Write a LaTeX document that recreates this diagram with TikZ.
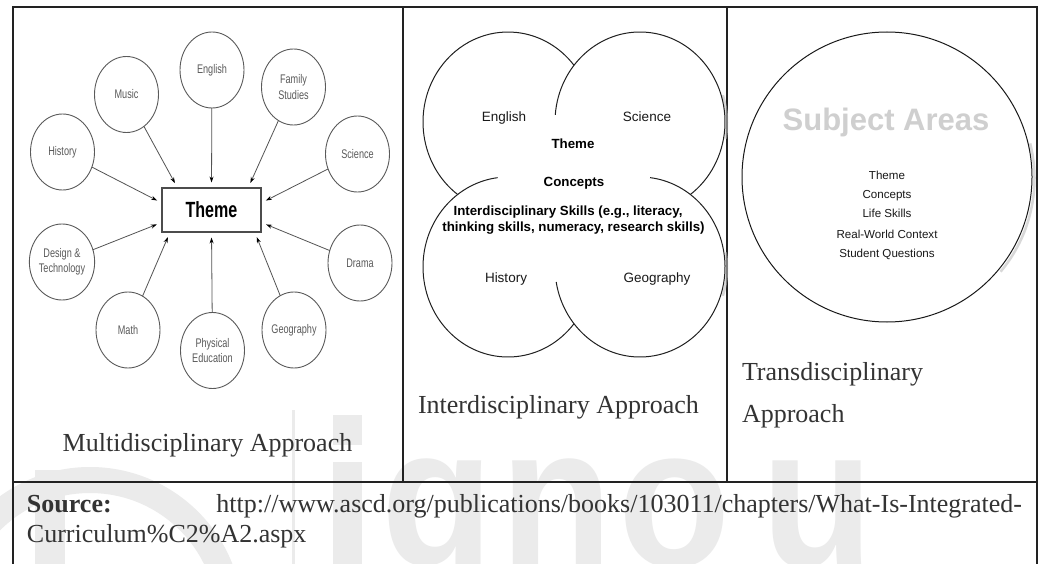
\documentclass[tikz,border=0pt]{standalone}
\usepackage{fontspec}
\setmainfont{Liberation Serif}
\newfontfamily\arialf{Liberation Sans}
\newfontfamily\narrowf[FakeStretch=0.73]{Liberation Sans}
\newfontfamily\wmfont[FakeStretch=0.92]{Liberation Sans}
\usetikzlibrary{arrows.meta,shapes.geometric}
\definecolor{ink}{HTML}{222222}
\definecolor{capcol}{HTML}{333333}
\definecolor{lgray}{HTML}{5A5A5A}
\definecolor{wm}{HTML}{EBEBEB}
\definecolor{subjcol}{HTML}{CFCFCF}
\begin{document}
\begin{tikzpicture}[x=1pt,y=-1pt,
  every node/.style={inner sep=0pt, outer sep=0pt},
  subject/.style={ellipse, draw=lgray, line width=0.9pt, fill=white,
    minimum width=64pt, minimum height=76pt, align=center, text=lgray,
    font=\narrowf\fontsize{12.5}{15.5}\selectfont},
  themebox/.style={rectangle, draw=gray!60!black, line width=1.3pt, fill=white,
    minimum width=99pt, minimum height=44pt,
    font=\narrowf\bfseries\fontsize{22}{26}\selectfont},
  feed/.style={draw=gray!65!black, line width=0.8pt,
    -{Stealth[length=6pt,width=4pt,color=black]}, shorten >=5.5pt},
  capt/.style={text=capcol, font=\fontsize{26}{30}\selectfont, anchor=base},
  src/.style={text=capcol, font=\fontsize{26}{30}\selectfont},
  venn/.style={draw=gray!25!black, line width=1pt},
  vshadow/.style={draw=gray!50, line width=2.5pt, draw opacity=0.6},
  vlabel/.style={text=gray!20!black, font=\arialf\fontsize{13.5}{16}\selectfont, anchor=base},
  vbold/.style={text=black, font=\arialf\bfseries\fontsize{13.3}{16}\selectfont, anchor=base},
  tlabel/.style={text=gray!20!black, font=\arialf\fontsize{11.6}{14}\selectfont, anchor=base},
  tablerule/.style={draw=ink, line width=2.4pt},
  wmtext/.style={text=wm, font=\wmfont\bfseries\fontsize{200}{200}\selectfont,
    anchor=base west, text height=104pt, text depth=0pt},
]
\useasboundingbox (0,0) rectangle (1044,564);
\fill[white] (0,0) rectangle (1044,564);

% ---------- faint watermark ----------
\draw[wm, line width=26pt] (-50,620) arc[start angle=180, end angle=360, radius=140];
\fill[wm] (35,470) rectangle (65,564);
\fill[wm] (291.5,410) rectangle (294.5,564);
\fill[wm] (333,415) rectangle (362,445);
\fill[wm] (333,462) rectangle (362,564);
\node[wmtext] (wmg) at (381,566) {g};
\node[wmtext] (wmn) at (500,566) {n};
\node[wmtext] (wmo) at (618,566) {o};
\node[wmtext] (wmu) at (761,566) {u};

% ---------- table rules ----------
\draw[tablerule] (13,564) -- (13,7) -- (1037,7) -- (1037,564);
\draw[tablerule] (403,7) -- (403,482);
\draw[tablerule] (727,7) -- (727,482);
\draw[tablerule] (13,482) -- (1037,482);

% ---------- left panel: multidisciplinary ----------
\node[themebox] (theme) at (211.5,210) {Theme};
\node[subject] (english) at (212,70) {English};
\node[subject] (music) at (126.5,94.5) {Music};
\node[subject] (family) at (293.5,87) {Family\\Studies};
\node[subject] (history) at (62.5,152) {History};
\node[subject] (science) at (357.5,154) {Science};
\node[subject] (design) at (62,262) {Design \&\\Technology};
\node[subject] (drama) at (360,263) {Drama};
\node[subject] (math) at (128,330) {Math};
\node[subject] (phys) at (212.5,350.5) {Physical\\Education};
\node[subject] (geo) at (294,330) {Geography};

\draw[feed] (history) -- (theme.172);
\draw[feed] (design) -- (theme.194);
\draw[feed] (music) -- (theme.147);
\draw[feed] (english) -- (theme.90);
\draw[feed] (family) -- (theme.31);
\draw[feed] (science) -- (theme.8);
\draw[feed] (drama) -- (theme.-14);
\draw[feed] (math) -- (theme.208);
\draw[feed] (phys) -- (theme.270);
\draw[feed] (geo) -- (theme.333);

\node[capt] (mcap) at (207.5,451) {Multidisciplinary Approach};

% ---------- middle panel: interdisciplinary ----------
\draw[vshadow] ([shift={(2,1)}]640,122) ++(-18:85 and 90) arc[start angle=-18, end angle=10, x radius=85, y radius=90];
\draw[vshadow] ([shift={(2,1)}]640,267) ++(-10:85 and 90) arc[start angle=-10, end angle=18, x radius=85, y radius=90];
\draw[venn] (508,122) ++(126.3:85 and 90) arc[start angle=126.3, end angle=320.95, x radius=85, y radius=90];
\draw[venn] (640,122) ++(184.5:85 and 90) arc[start angle=184.5, end angle=413.7, x radius=85, y radius=90];
\draw[venn] (508,267) ++(39.05:85 and 90) arc[start angle=39.05, end angle=263, x radius=85, y radius=90];
\draw[venn] (640,267) ++(170.4:85 and 90) arc[start angle=170.4, end angle=-83.2, x radius=85, y radius=90];

\node[vlabel] (ienglish) at (504,122) {English};
\node[vlabel] (iscience) at (647,122) {Science};
\node[vbold] (itheme) at (573,149) {Theme};
\node[vbold] (iconcepts) at (574,187) {Concepts};
\node[vbold] (iskills1) at (568,215) {Interdisciplinary Skills (e.g., literacy,};
\node[vbold] (iskills2) at (573.5,232) {thinking skills, numeracy, research skills)};
\node[vlabel] (ihistory) at (506,282) {History};
\node[vlabel] (igeo) at (657,282) {Geography};

\node[capt, anchor=base west] (icap) at (418,413) {Interdisciplinary Approach};

% ---------- right panel: transdisciplinary ----------
\draw[vshadow] ([shift={(2.5,1.5)}]887,177) ++(-14:145) arc[start angle=-14, end angle=40, radius=145];
\node[circle, draw=gray!20!black, line width=1pt, minimum size=290pt] (whole) at (887,177) {};
\node[text=subjcol, font=\arialf\bfseries\fontsize{31}{36}\selectfont, anchor=base] (tsubj) at (886,131) {Subject Areas};
\node[tlabel] (ttheme) at (887,180) {Theme};
\node[tlabel] (tconcepts) at (887,199) {Concepts};
\node[tlabel] (tlife) at (887,218) {Life Skills};
\node[tlabel] (treal) at (887,238) {Real-World Context};
\node[tlabel] (tquest) at (887,257) {Student Questions};

\node[capt, anchor=base west] (tcap1) at (742,380) {Transdisciplinary};
\node[capt, anchor=base west] (tcap2) at (742,422) {Approach};

% ---------- source ----------
\node[src, anchor=base west] (srclabel) at (27,512) {\textbf{Source:}};
\node[src, anchor=base east] (srcurl) at (1022,512) {http://www.ascd.org/publications/books/103011/chapters/What-Is-Integrated-};
\node[src, anchor=base west] (srcurl2) at (27,542) {Curriculum\%C2\%A2.aspx};
\end{tikzpicture}
\end{document}
